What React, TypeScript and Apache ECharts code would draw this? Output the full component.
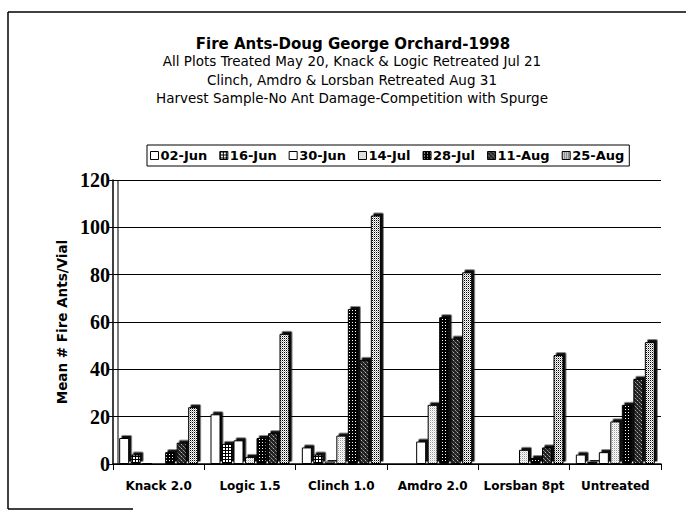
import React, { useEffect, useRef } from "react";
import * as echarts from "echarts";

const categories = ["Knack 2.0", "Logic 1.5", "Clinch 1.0", "Amdro 2.0", "Lorsban 8pt", "Untreated"];
const seriesNames = ["02-Jun", "16-Jun", "30-Jun", "14-Jul", "28-Jul", "11-Aug", "25-Aug"];
const jun02 = [11, 21, 7, 0, 0, 4];
const jun16 = [4, 8.5, 4, 0, 0, 1];
const jun30 = [0.5, 10, 1, 9.5, 0, 5];
const jul14 = [0.3, 3, 12, 25, 6, 18];
const jul28 = [5, 11, 65.5, 62, 2.5, 25];
const aug11 = [9, 13, 44, 53, 7, 36];
const aug25 = [24, 55, 105, 81, 46, 51.5];
const seriesValues = [jun02, jun16, jun30, jul14, jul28, aug11, aug25];
const yTicks = [0, 20, 40, 60, 80, 100, 120];

const titleText = "Fire Ants-Doug George Orchard-1998";
const subtitleLines = [
  "All Plots Treated May 20, Knack & Logic Retreated Jul 21",
  "Clinch, Amdro & Lorsban Retreated Aug 31",
  "Harvest Sample-No Ant Damage-Competition with Spurge",
];
const yAxisName = "Mean # Fire Ants/Vial";

function makePattern(w: number, h: number, bg: string, pixels: Array<[number, number, string]>) {
  const c = document.createElement("canvas");
  c.width = w;
  c.height = h;
  const ctx = c.getContext("2d")!;
  ctx.fillStyle = bg;
  ctx.fillRect(0, 0, w, h);
  for (const [x, y, col] of pixels) {
    ctx.fillStyle = col;
    ctx.fillRect(x, y, 1, 1);
  }
  return { image: c, repeat: "repeat", imageWidth: w, imageHeight: h } as any;
}

const SANS = "DejaVu Sans";

export default function App() {
  const ref = useRef<HTMLDivElement>(null);
  useEffect(() => {
    if (!ref.current) return;
    const chart = echarts.init(ref.current, null, { renderer: "svg" });

    const grid16 = makePattern(3, 3, "#fff", [
      [0, 0, "#000"], [1, 0, "#000"], [2, 0, "#000"], [0, 1, "#000"], [0, 2, "#000"],
    ]);
    const dots14 = makePattern(2, 2, "#fff", [[0, 0, "#999"], [1, 1, "#ddd"]]);
    const dark28 = makePattern(3, 3, "#000", [[1, 1, "#fff"]]);
    const mottled11 = makePattern(4, 4, "#222", [[1, 0, "#bbb"], [3, 2, "#999"], [0, 3, "#777"], [2, 1, "#555"]]);
    const stipple25 = makePattern(2, 2, "#fff", [[0, 0, "#000"], [1, 1, "#aaa"]]);
    const fills: any[] = ["#fff", grid16, "#fff", dots14, dark28, mottled11, stipple25];

    const series = seriesNames.map((name, i) => ({
      name,
      type: "bar",
      data: seriesValues[i],
      barWidth: 10,
      barGap: "15%",
      itemStyle: {
        color: fills[i],
        borderColor: "#000",
        borderWidth: 1,
        shadowColor: "#111",
        shadowBlur: 0,
        shadowOffsetX: 2.5,
        shadowOffsetY: -2.5,
      },
    }));

    const titles: any[] = [
      {
        text: titleText,
        left: 353,
        top: 36,
        padding: 0,
        textAlign: "center",
        textStyle: { fontFamily: SANS, fontWeight: "bold", fontSize: 15, color: "#000" },
      },
      ...subtitleLines.map((t, i) => ({
        text: t,
        left: 352,
        top: 54 + i * 18.5,
        padding: 0,
        textAlign: "center",
        textStyle: { fontFamily: SANS, fontWeight: "normal", fontSize: 13.5, color: "#000" },
      })),
    ];

    chart.setOption({
      animation: false,
      backgroundColor: "#fff",
      title: titles,
      legend: {
        data: seriesNames,
        left: 147,
        top: 145,
        width: 540,
        padding: [4, 5, 4, 3],
        itemWidth: 8,
        itemHeight: 8,
        itemGap: 12,
        icon: "rect",
        borderColor: "#000",
        borderWidth: 1,
        itemStyle: { shadowBlur: 0, shadowOffsetX: 0, shadowOffsetY: 0, shadowColor: "transparent", borderWidth: 1, borderColor: "#000" },
        textStyle: { fontFamily: SANS, fontWeight: "bold", fontSize: 13, color: "#000", padding: [0, 0, 0, -3] },
      },
      grid: { left: 113, right: 25, top: 180, bottom: 55, containLabel: false },
      xAxis: {
        type: "category",
        data: categories,
        axisLine: { lineStyle: { color: "#000", width: 1.5 } },
        axisTick: { show: true, length: 6, lineStyle: { color: "#000" } },
        axisLabel: { interval: 0, margin: 16, fontFamily: SANS, fontWeight: "bold", fontSize: 12, color: "#000" },
      },
      yAxis: {
        type: "value",
        min: yTicks[0],
        max: yTicks[yTicks.length - 1],
        interval: 20,
        name: yAxisName,
        nameLocation: "middle",
        nameGap: 44,
        nameTextStyle: { fontFamily: SANS, fontWeight: "bold", fontSize: 13.5, color: "#000" },
        axisLine: { show: true, lineStyle: { color: "#000", width: 1.5 } },
        axisTick: { show: true, length: 4, lineStyle: { color: "#000" } },
        axisLabel: { margin: 3, fontFamily: "Liberation Serif", fontWeight: "bold", fontSize: 20, color: "#000" },
        splitLine: { show: true, lineStyle: { color: "#000", width: 1.2 } },
      },
      graphic: [
        { type: "line", shape: { x1: 8, y1: 12, x2: 686, y2: 12 }, style: { stroke: "#000", lineWidth: 1.5 } },
        { type: "line", shape: { x1: 8, y1: 12, x2: 8, y2: 509 }, style: { stroke: "#000", lineWidth: 1.5 } },
        { type: "line", shape: { x1: 8, y1: 509, x2: 133, y2: 509 }, style: { stroke: "#000", lineWidth: 1.5 } },
        { type: "line", shape: { x1: 118, y1: 180, x2: 118, y2: 464 }, style: { stroke: "#000", lineWidth: 1 } },
      ],
      series,
    });
    return () => chart.dispose();
  }, []);
  return <div ref={ref} style={{ position: "fixed", left: 0, top: 0, width: 686, height: 519 }} />;
}
